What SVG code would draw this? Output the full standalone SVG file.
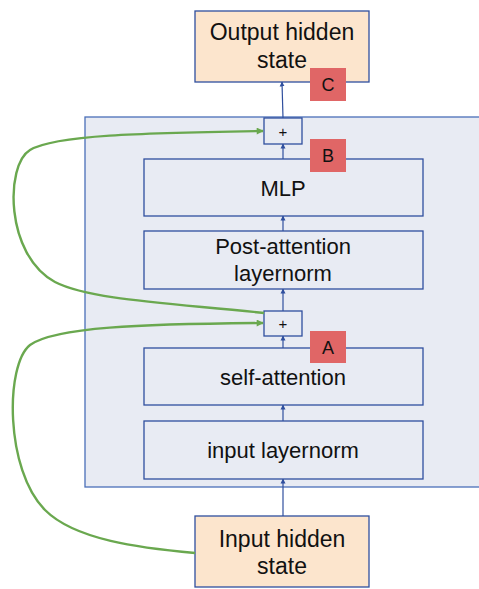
<svg xmlns="http://www.w3.org/2000/svg" width="479" height="589" viewBox="0 0 479 589">
<defs>
<style>
text{font-family:"Liberation Sans",Arial,sans-serif;fill:#111;text-anchor:middle}
.box{fill:#e8ebf3;stroke:#2f4f9e;stroke-width:1.3}
.io{fill:#fce5cd;stroke:#2f4f9e;stroke-width:1.3}
.lab{fill:#e06666}
.t{font-size:22px}
.tio{font-size:23px}
.lt{font-size:18px}
.pl{font-size:15px}
.arr{stroke:#2f4f9e;stroke-width:1.2;fill:none;marker-end:url(#ab)}
.res{stroke:#6aa84f;stroke-width:2.4;fill:none;marker-end:url(#ag)}
</style>
<marker id="ab" viewBox="0 0 10 10" refX="9" refY="5" markerWidth="5" markerHeight="7" orient="auto" markerUnits="userSpaceOnUse"><path d="M0,0L10,5L0,10z" fill="#2f4f9e"/></marker>
<marker id="ag" viewBox="0 0 10 10" refX="9" refY="5" markerWidth="9" markerHeight="7" orient="auto" markerUnits="userSpaceOnUse"><path d="M0,0L10,5L0,10z" fill="#6aa84f"/></marker>
</defs>
<g id="container"><rect x="85" y="117" width="400" height="370" fill="#e8ebf3" stroke="#4a6fb8" stroke-width="1.3"/></g>
<g id="output"><rect class="io" x="195" y="11" width="174" height="71"/><text class="tio" x="282" y="40">Output hidden</text><text class="tio" x="282" y="68">state</text></g>
<g id="labelC"><rect class="lab" x="310" y="68" width="36" height="33"/><text class="lt" x="328" y="91">C</text></g>
<g id="plus2"><rect class="box" x="264" y="118" width="38" height="26"/><text class="pl" x="283" y="137">+</text></g>
<g id="mlp"><rect class="box" x="144" y="159" width="279" height="57"/><text class="t" x="283" y="196">MLP</text></g>
<g id="labelB"><rect class="lab" x="310" y="139" width="36" height="33"/><text class="lt" x="328" y="162">B</text></g>
<g id="postln"><rect class="box" x="144" y="231" width="279" height="58"/><text class="t" x="283" y="254">Post-attention</text><text class="t" x="283" y="281">layernorm</text></g>
<g id="plus1"><rect class="box" x="264" y="311" width="38" height="25"/><text class="pl" x="283" y="329">+</text></g>
<g id="selfattn"><rect class="box" x="144" y="348" width="279" height="57"/><text class="t" x="283" y="385">self-attention</text></g>
<g id="labelA"><rect class="lab" x="310" y="331" width="36" height="32"/><text class="lt" x="328" y="354">A</text></g>
<g id="inputln"><rect class="box" x="144" y="421" width="279" height="58"/><text class="t" x="283" y="458">input layernorm</text></g>
<g id="input"><rect class="io" x="195" y="516" width="174" height="71"/><text class="tio" x="282" y="547">Input hidden</text><text class="tio" x="282" y="574">state</text></g>
<g id="connectors">
<path class="arr" d="M283,118 L282,82"/>
<path class="arr" d="M283,159 L283,144"/>
<path class="arr" d="M283,231 L283,216"/>
<path class="arr" d="M283,311 L283,289"/>
<path class="arr" d="M283,348 L283,336"/>
<path class="arr" d="M283,421 L283,405"/>
<path class="arr" d="M283,516 L283,479"/>
<path class="res" d="M264,313 C170,303 90,300 55,282 C5,255 5,165 30,150 C55,135 140,133 263,131"/>
<path class="res" d="M195,553 C140,548 75,540 45,510 C5,470 5,365 30,345 C55,327 140,324 263,323"/>
</g>
</svg>
